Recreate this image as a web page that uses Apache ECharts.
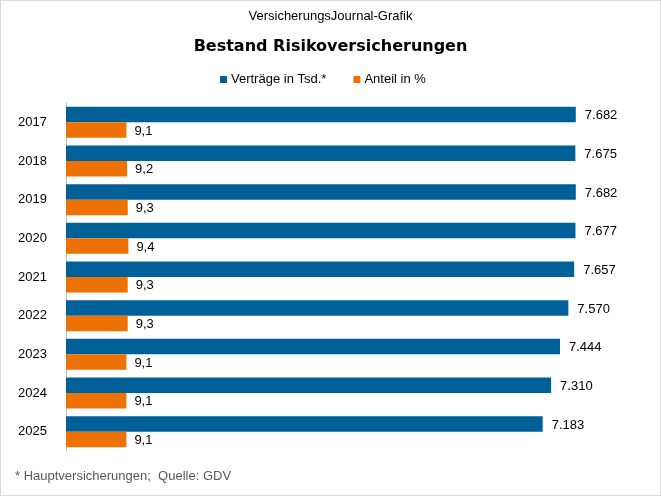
<!DOCTYPE html>
<html>
<head>
<meta charset="utf-8">
<script src="https://cdn.jsdelivr.net/npm/echarts@6/dist/echarts.min.js"></script>
<style>
  html, body { margin: 0; padding: 0; background: #fff; }
  #chart { width: 659px; height: 494px; border: 1px solid #d9d9d9; }
</style>
</head>
<body>
<div id="chart"></div>
<script>
'use strict';
var years = ['2017', '2018', '2019', '2020', '2021', '2022', '2023', '2024', '2025'];
var vertraege = [7682, 7675, 7682, 7677, 7657, 7570, 7444, 7310, 7183];
var anteil = [9.1, 9.2, 9.3, 9.4, 9.3, 9.3, 9.1, 9.1, 9.1];

var font = '"Liberation Sans", Arial, sans-serif';

function fmtThousand(v) {
    return String(v).replace(/\B(?=(\d{3})+(?!\d))/g, '.');
}
function fmtDecimal(v) {
    return v.toFixed(1).replace('.', ',');
}

var myChart = echarts.init(document.getElementById('chart'));

var option = {
    animation: false,
    textStyle: { fontFamily: font },
    title: [
        {
            text: 'VersicherungsJournal-Grafik',
            left: 'center',
            top: 4,
            textStyle: { fontSize: 13, fontWeight: 'normal', color: '#000', fontFamily: font }
        },
        {
            text: 'Bestand Risikoversicherungen',
            left: 'center',
            top: 33,
            textStyle: { fontSize: 16, fontWeight: 'bold', color: '#000', fontFamily: '"DejaVu Sans", sans-serif' }
        },
        {
            text: '* Hauptversicherungen;  Quelle: GDV',
            left: 9,
            top: 464,
            textStyle: { fontSize: 13, fontWeight: 'normal', color: '#595959', fontFamily: font }
        }
    ],
    legend: {
        top: 67,
        left: 214,
        itemWidth: 7,
        itemHeight: 7,
        itemGap: 27,
        icon: 'rect',
        textStyle: { fontSize: 13, color: '#000', fontFamily: font, padding: [0, 0, 0, -1] },
        data: ['Verträge in Tsd.*', 'Anteil in %']
    },
    grid: {
        left: 65,
        right: 10,
        top: 102,
        bottom: 44,
        containLabel: false
    },
    xAxis: [
        { type: 'value', min: 0, max: 8800, show: false },
        { type: 'value', min: 0, max: 88, show: false, position: 'top' }
    ],
    yAxis: {
        type: 'category',
        inverse: true,
        data: years,
        axisLine: { lineStyle: { color: '#bfbfbf' } },
        axisTick: { length: 4, lineStyle: { color: '#bfbfbf' } },
        axisLabel: { fontSize: 13, color: '#000', margin: 19, fontFamily: font }
    },
    series: [
        {
            name: 'Verträge in Tsd.*',
            type: 'bar',
            xAxisIndex: 0,
            data: vertraege,
            barCategoryGap: '20%',
            barGap: '0%',
            itemStyle: { color: '#006199' },
            label: {
                show: true,
                position: 'right',
                distance: 9,
                offset: [0, 1],
                fontSize: 13,
                color: '#000',
                fontFamily: font,
                formatter: function (p) { return fmtThousand(p.value); }
            }
        },
        {
            name: 'Anteil in %',
            type: 'bar',
            xAxisIndex: 1,
            data: anteil,
            barCategoryGap: '20%',
            barGap: '0%',
            itemStyle: { color: '#ee7203' },
            label: {
                show: true,
                position: 'right',
                distance: 8,
                offset: [0, 1],
                fontSize: 13,
                color: '#000',
                fontFamily: font,
                formatter: function (p) { return fmtDecimal(p.value); }
            }
        }
    ]
};

myChart.setOption(option);
window.onresize = function () {
    myChart.resize();
};
</script>
</body>
</html>
